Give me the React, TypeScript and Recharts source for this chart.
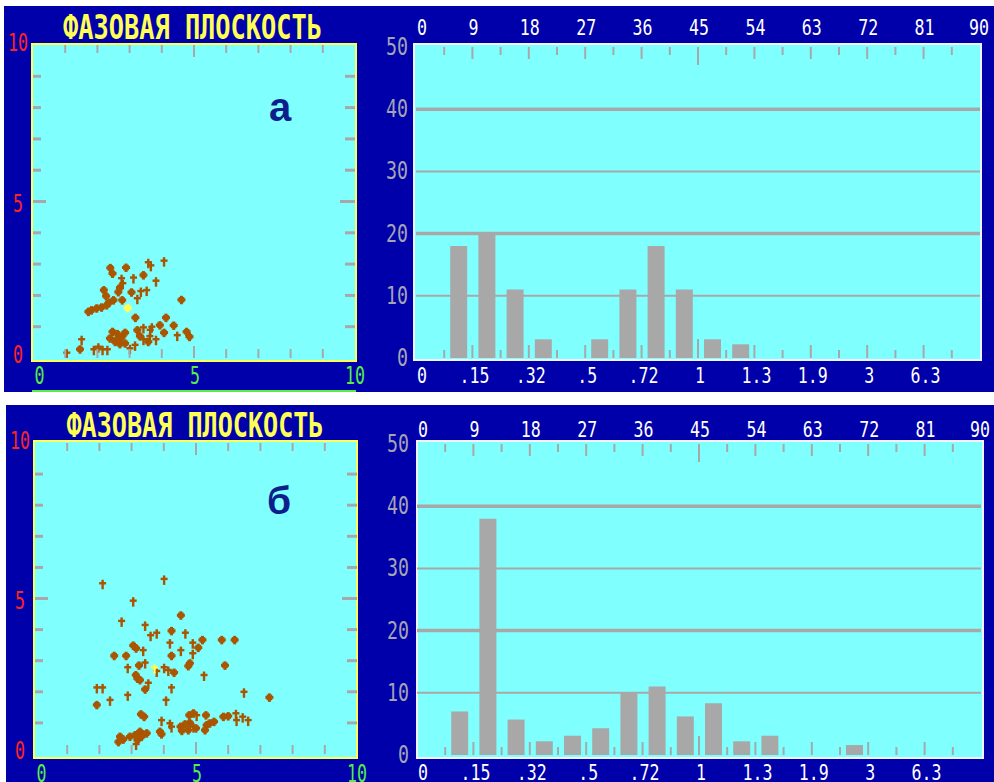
import React from 'react';
import { ScatterChart, Scatter, BarChart, Bar, XAxis, YAxis, ReferenceLine } from 'recharts';

const BLUE = '#0000aa';
const CYAN = '#80ffff';
const GRAY = '#a8a8a8';
const LABEL_GRAY = '#a4a4b4';
const BROWN = '#aa5500';
const YELLOW = '#ffff55';
const RED = '#ff2222';
const GREEN = '#55ee44';
const PIX = "'DejaVu Sans Mono', 'Liberation Mono', monospace";

// histogram bins: lower edge of each bin (top scale, 0..90)
const binStart = [0, 4.5, 9, 13.5, 18, 22.5, 27, 31.5, 36, 40.5, 45, 49.5, 54, 58.5, 63, 67.5, 72, 76.5, 81, 85.5];
const degTicks = [0, 4.5, 9, 13.5, 18, 22.5, 27, 31.5, 36, 40.5, 45, 49.5, 54, 58.5, 63, 67.5, 72, 76.5, 81, 85.5, 90];
const freqPos = [0, 9, 18, 27, 36, 45, 54, 63, 72, 81];
const freqLabels = ['0', '.15', '.32', '.5', '.72', '1', '1.3', '1.9', '3', '6.3'];
const countTicks = [0, 10, 20, 30, 40, 50];

const countsA = [0, 18, 20, 11, 3, 0, 3, 11, 18, 11, 3, 2.2, 0, 0, 0, 0, 0, 0, 0, 0];
const countsB = [0, 7, 38, 5.7, 2.2, 3.1, 4.3, 10, 11, 6.2, 8.3, 2.2, 3.1, 0, 0, 1.6, 0, 0, 0, 0];

const phaseTicks = [0, 1, 2, 3, 4, 5, 6, 7, 8, 9, 10];
const phaseLabels = [0, 5, 10];

type Pt = [number, number];

// panel "а"
const crossA: Pt[] = [
  [4.07, 3.11], [3.58, 3.06], [3.66, 2.96], [3.12, 2.57], [3.82, 2.47], [2.75, 2.55], [2.79, 2.39],
  [3.35, 2.14], [3.53, 2.17], [3.24, 1.91], [3.69, 1.0], [3.64, 0.9], [3.43, 0.98], [4.48, 0.73],
  [3.82, 0.6], [3.43, 0.6], [1.51, 0.6], [1.05, 0.17], [1.89, 0.28], [2.03, 0.36], [2.16, 0.28],
  [2.31, 0.28], [3.01, 0.31], [3.17, 0.42], [3.63, 0.7],
];
const blobA: Pt[] = [
  [2.89, 2.89], [2.4, 2.88], [2.47, 2.7], [3.43, 2.65], [2.65, 2.11], [2.7, 2.25], [2.2, 2.17],
  [2.27, 1.98], [3.06, 2.1], [2.77, 1.85], [2.36, 1.77], [2.5, 1.85], [1.72, 1.48], [1.82, 1.53],
  [1.98, 1.59], [2.13, 1.62], [2.29, 1.69], [4.61, 1.86], [3.18, 1.29], [4.13, 1.29], [4.37, 1.04],
  [3.94, 1.05], [3.24, 0.89], [4.77, 0.84], [4.86, 0.68], [4.07, 0.81], [3.58, 0.52], [3.32, 0.7],
  [2.47, 0.84], [2.62, 0.77], [2.75, 0.66], [2.86, 0.81], [2.55, 0.52], [2.7, 0.45], [2.86, 0.47],
  [2.39, 0.63], [2.62, 0.6], [1.46, 0.28],
];
const markA: Pt[] = [[2.94, 1.6]];

// panel "б"
const crossB: Pt[] = [
  [2.1, 5.49], [4.01, 5.63], [3.05, 4.93], [2.69, 4.28], [3.42, 4.15], [3.59, 3.82], [3.78, 3.9],
  [4.67, 3.9], [4.19, 3.58], [4.9, 3.58], [3.36, 3.34], [4.53, 3.34], [4.9, 3.24], [3.42, 2.94],
  [2.88, 2.79], [4.01, 2.79], [4.14, 2.7], [3.78, 2.67], [5.25, 2.54], [3.52, 2.29], [1.92, 2.14],
  [2.1, 2.14], [4.24, 2.14], [2.88, 1.9], [6.49, 2.0], [2.33, 1.74], [4.07, 1.74], [3.93, 1.09],
  [4.19, 0.99], [4.24, 0.88], [6.24, 1.31], [6.26, 1.09], [6.45, 1.2], [6.62, 1.09], [3.14, 0.32],
  [4.92, 0.88], [5.02, 1.25],
];
const blobB: Pt[] = [
  [4.53, 4.46], [4.24, 3.96], [5.2, 3.67], [5.8, 3.67], [6.2, 3.67], [3.05, 3.49], [3.14, 3.4],
  [5.07, 3.42], [2.46, 3.16], [2.83, 3.16], [4.24, 3.16], [3.23, 2.85], [4.81, 2.92], [4.76, 2.83],
  [5.9, 2.85], [4.32, 2.62], [3.13, 2.54], [3.18, 2.43], [3.26, 2.38], [3.42, 2.08], [7.28, 1.82],
  [1.92, 1.58], [3.29, 1.28], [3.39, 1.2], [3.88, 0.72], [3.93, 0.64], [4.52, 0.88], [4.66, 0.96],
  [4.81, 1.0], [4.56, 0.75], [4.76, 0.77], [4.79, 1.25], [5.0, 0.83], [5.31, 1.25], [5.33, 0.93],
  [5.43, 0.99], [5.56, 1.04], [5.28, 0.77], [5.85, 1.2], [6.0, 1.22], [2.64, 0.56], [2.74, 0.47],
  [2.59, 0.39], [3.11, 0.61], [3.18, 0.45], [3.26, 0.72], [3.47, 0.67], [3.31, 0.56], [2.95, 0.56],
  [4.92, 1.31],
];
const markB: Pt[] = [[3.71, 2.78]];

const PixText = ({ x, y, text, color, size = 22, cw = 10, anchor = 'middle', bold = false }: any) => (
  <text
    x={x}
    y={y}
    fill={color}
    fontFamily={PIX}
    fontSize={size}
    fontWeight={bold ? 'bold' : 'normal'}
    textAnchor={anchor}
    textLength={text.length * cw}
    lengthAdjust="spacingAndGlyphs"
  >
    {text}
  </text>
);

const Cross = (p: any) => {
  const { cx, cy, fill } = p;
  if (cx == null || cy == null) return null;
  return (
    <g fill={fill}>
      <rect x={cx - 1.2} y={cy - 3.5} width={2.4} height={9.5} />
      <rect x={cx - 3.5} y={cy - 1.2} width={7} height={2.4} />
    </g>
  );
};

const Blob = (p: any) => {
  const { cx, cy, fill } = p;
  if (cx == null || cy == null) return null;
  return (
    <g fill={fill}>
      <rect x={cx - 4} y={cy - 1.5} width={8} height={3} />
      <rect x={cx - 1.5} y={cy - 4} width={3} height={8.5} />
      <rect x={cx - 2.8} y={cy - 2.8} width={5.6} height={5.6} />
    </g>
  );
};

const labelShift = (v: number) => (v === 10 ? -3.5 : v === 5 ? 1 : -4.5);

const phaseTick = (side: string, gap: number) => (p: any) => {
  const { x, y } = p;
  const v = p.payload.value;
  const inner = v > 0 && v < 10;
  const major = v === 5;
  const show = phaseLabels.includes(v);
  if (side === 'bottom') {
    return (
      <g>
        {inner && <line x1={x} x2={x} y1={y} y2={y - (major ? 12 : 9)} stroke={GRAY} strokeWidth={2} />}
        {show && (
          <PixText x={x + (v === 0 ? 6.5 : v === 5 ? 1 : 0)} y={y + gap + 9} text={String(v)} color={GREEN} size={24} />
        )}
      </g>
    );
  }
  if (side === 'top') {
    return <g>{inner && <line x1={x} x2={x} y1={y} y2={y + (major ? 12 : 8)} stroke={GRAY} strokeWidth={2} />}</g>;
  }
  if (side === 'left') {
    return (
      <g>
        {inner && <line x1={x} x2={x + (major ? 13 : 8)} y1={y} y2={y} stroke={GRAY} strokeWidth={3} />}
        {show && <PixText x={x - 15} y={y + 9 + labelShift(v)} text={String(v)} color={RED} size={24} />}
      </g>
    );
  }
  return <g>{inner && <line x1={x} x2={x - (major ? 15 : 10)} y1={y} y2={y} stroke={GRAY} strokeWidth={3} />}</g>;
};

const toPts = (a: Pt[]) => a.map(([x, y]) => ({ x, y }));

const PhasePlane = ({ left, top, width, height, plot, crosses, blobs, marks, markBlob, gap }: any) => {
  const mL = plot.l - left;
  const mR = left + width - plot.r;
  const mT = plot.t - top;
  const mB = top + height - plot.b;
  const common = { type: 'number' as const, domain: [0, 10], ticks: phaseTicks, interval: 0, tickLine: false, axisLine: false, tickSize: 0, tickMargin: 0, allowDataOverflow: true };
  return (
    <div style={{ position: 'absolute', left, top }}>
      <ScatterChart width={width} height={height} margin={{ top: 0, right: 0, bottom: 0, left: 0 }}>
        <XAxis xAxisId="b" dataKey="x" orientation="bottom" height={mB} tick={phaseTick('bottom', gap)} {...common} />
        <XAxis xAxisId="t" dataKey="x" orientation="top" height={mT} tick={phaseTick('top', gap)} {...common} />
        <YAxis yAxisId="l" dataKey="y" orientation="left" width={mL} tick={phaseTick('left', gap)} {...common} />
        <YAxis yAxisId="r" dataKey="y" orientation="right" width={mR} tick={phaseTick('right', gap)} {...common} />
        <Scatter xAxisId="b" yAxisId="l" data={toPts(crosses)} fill={BROWN} shape={(p: any) => <Cross {...p} />} isAnimationActive={false} />
        <Scatter xAxisId="b" yAxisId="l" data={toPts(blobs)} fill={BROWN} shape={(p: any) => <Blob {...p} />} isAnimationActive={false} />
        <Scatter
          xAxisId="b"
          yAxisId="l"
          data={toPts(marks)}
          fill={YELLOW}
          shape={(p: any) => (markBlob ? <Blob {...p} /> : <Cross {...p} />)}
          isAnimationActive={false}
        />
      </ScatterChart>
    </div>
  );
};

const degTick = (raise: number) => (p: any) => {
  const { x, y } = p;
  const v = p.payload.value;
  const len = v === 0 || v === 90 ? 0 : v === 45 ? 18 : v % 9 === 0 ? 12 : 8;
  return (
    <g>
      {len > 0 && <line x1={x} x2={x} y1={y} y2={y + len} stroke={GRAY} strokeWidth={2} />}
      {v % 9 === 0 && (
        <PixText x={x + (v === 0 ? 6 : v === 90 ? -1 : 1)} y={y - raise} text={String(v)} color="#ffffff" />
      )}
    </g>
  );
};

const freqTick = (p: any) => {
  const { x, y } = p;
  const v = p.payload.value;
  const len = v === 0 ? 0 : v === 45 ? 19 : v % 9 === 0 ? 13 : 8;
  const i = freqPos.indexOf(v);
  return (
    <g>
      {len > 0 && <line x1={x} x2={x} y1={y} y2={y - len} stroke={GRAY} strokeWidth={2} />}
      {i >= 0 && <PixText x={x + (v === 0 ? 6 : 2)} y={y + 25} text={freqLabels[i]} color="#ffffff" />}
    </g>
  );
};

const countTick = (p: any) => (
  <PixText x={p.x - 8} y={p.y + 8} text={String(p.payload.value)} color={LABEL_GRAY} size={24} cw={11} anchor="end" />
);

const Histogram = ({ left, top, width, height, plot, counts, raise }: any) => {
  const data = binStart.map((b, i) => ({ bin: b, count: counts[i] }));
  const mL = plot.l - left;
  const mR = left + width - plot.r;
  const mT = plot.t - top;
  const mB = top + height - plot.b;
  const num = { dataKey: 'bin', type: 'number' as const, domain: [0, 90], interval: 0, tickLine: false, axisLine: false, tickSize: 0, tickMargin: 0, allowDataOverflow: true };
  return (
    <div style={{ position: 'absolute', left, top }}>
      <BarChart width={width} height={height} data={data} margin={{ top: 0, right: mR, bottom: 0, left: 0 }} barCategoryGap={0}>
        <XAxis xAxisId="freq" orientation="bottom" height={mB} ticks={binStart} tick={freqTick} {...num} />
        <XAxis xAxisId="deg" orientation="top" height={mT} ticks={degTicks} tick={degTick(raise)} {...num} />
        <XAxis xAxisId="bin" dataKey="bin" type="category" height={0} hide />
        <YAxis type="number" domain={[0, 50]} ticks={countTicks} interval={0} width={mL} tick={countTick} tickLine={false} axisLine={false} tickSize={0} tickMargin={0} allowDataOverflow />
        <ReferenceLine xAxisId="bin" y={10} stroke={GRAY} strokeWidth={2} />
        <ReferenceLine xAxisId="bin" y={20} stroke={GRAY} strokeWidth={3.5} />
        <ReferenceLine xAxisId="bin" y={30} stroke={GRAY} strokeWidth={2} />
        <ReferenceLine xAxisId="bin" y={40} stroke={GRAY} strokeWidth={3.5} />
        <Bar xAxisId="bin" dataKey="count" fill={GRAY} barSize={17} isAnimationActive={false} />
      </BarChart>
    </div>
  );
};

const box = (left: number, top: number, width: number, height: number, border: string, bg = CYAN): React.CSSProperties => ({
  position: 'absolute', left, top, width, height, background: bg, border: `2px solid ${border}`, boxSizing: 'border-box',
});

export default function App() {
  return (
    <div style={{ position: 'absolute', left: 0, top: 0, width: 994, height: 782, background: '#ffffff', overflow: 'hidden' }}>
      <div style={{ position: 'absolute', left: 4, top: 6, width: 990, height: 386, background: BLUE }} />
      <div style={{ position: 'absolute', left: 6, top: 405, width: 988, height: 377, background: BLUE }} />

      <div style={box(31, 43, 326, 319, YELLOW)} />
      <div style={box(33, 440, 325, 319, YELLOW)} />
      <div style={box(413, 43, 569, 318, '#f2f2ff')} />
      <div style={box(416, 440, 568, 319, '#f2f2ff')} />

      <div style={{ position: 'absolute', left: 32, top: 390, width: 324, height: 2, background: GREEN }} />
      <div style={{ position: 'absolute', left: 4, top: 386, width: 24, height: 6, overflow: 'hidden' }}>
        <svg width={24} height={6}>
          <PixText x={2} y={18} text="50" color={LABEL_GRAY} size={24} cw={10} anchor="start" />
        </svg>
      </div>

      <PhasePlane left={0} top={0} width={370} height={392} plot={{ l: 33, r: 355, t: 45, b: 358 }} crosses={crossA} blobs={blobA} marks={markA} markBlob gap={17} />
      <PhasePlane left={0} top={400} width={370} height={382} plot={{ l: 35, r: 357, t: 443, b: 754 }} crosses={crossB} blobs={blobB} marks={markB} gap={19} />

      <Histogram left={370} top={0} width={624} height={392} plot={{ l: 416, r: 980, t: 47, b: 358 }} counts={countsA} raise={12} />
      <Histogram left={370} top={400} width={624} height={382} plot={{ l: 417, r: 981, t: 444, b: 755 }} counts={countsB} raise={7} />

      <svg width={994} height={782} style={{ position: 'absolute', left: 0, top: 0, pointerEvents: 'none' }}>
        <PixText x={192.5} y={39} text="ФАЗОВАЯ ПЛОСКОСТЬ" color={YELLOW} size={33} cw={259 / 17} bold />
        <PixText x={195} y={437} text="ФАЗОВАЯ ПЛОСКОСТЬ" color={YELLOW} size={33} cw={257 / 17} bold />
        <text x={280} y={121} textAnchor="middle" fontFamily="'Liberation Sans', Arial, sans-serif" fontWeight="bold" fontSize={40} fill="#0d1f8a">а</text>
        <text x={279} y={514} textAnchor="middle" fontFamily="'Liberation Sans', Arial, sans-serif" fontWeight="bold" fontSize={39} fill="#0d1f8a">б</text>
      </svg>
    </div>
  );
}
